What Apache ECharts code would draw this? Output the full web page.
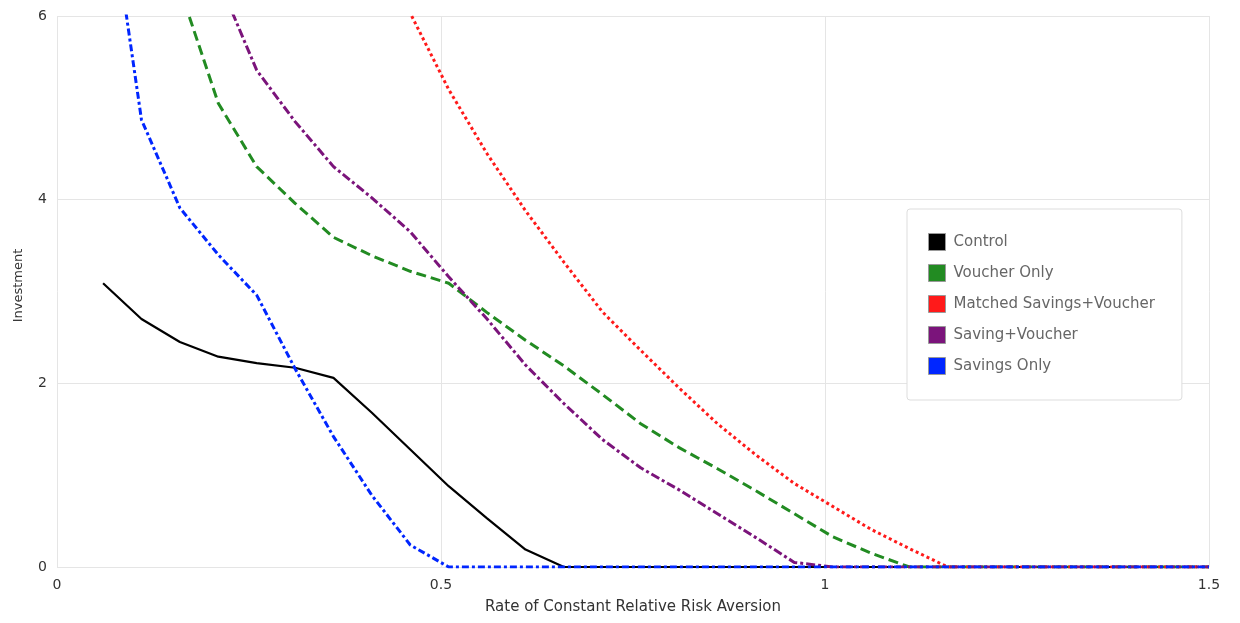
<!DOCTYPE html>
<html>
<head>
<meta charset="utf-8">
<script src="https://cdn.jsdelivr.net/npm/echarts@6/dist/echarts.min.js"></script>
<style>
html,body{margin:0;padding:0;background:#fff;}
#chart{width:1240px;height:623px;}
</style>
</head>
<body>
<div id="chart"></div>
<script>
// Rate of constant relative risk aversion (x values)
var xValues = [0.06,0.11,0.16,0.21,0.26,0.31,0.36,0.41,0.46,0.51,0.56,0.61,0.66,0.71,0.76,0.81,0.86,0.91,0.96,1.01,1.06,1.11,1.16,1.21,1.26,1.31,1.36,1.41,1.46,1.5];

var control = [3.09,2.70,2.45,2.29,2.22,2.17,2.06,1.68,1.28,0.88,0.53,0.19,0,0,0,0,0,0,0,0,0,0,0,0,0,0,0,0,0,0];
var voucherOnly = [null,null,6.3,5.05,4.36,3.96,3.59,3.39,3.22,3.09,2.77,2.47,2.19,1.88,1.56,1.30,1.07,0.83,0.58,0.33,0.15,0,0,0,0,0,0,0,0,0];
var matchedSavingsVoucher = [null,null,null,null,null,null,null,6.95,6.03,5.20,4.50,3.88,3.32,2.78,2.36,1.95,1.56,1.22,0.91,0.66,0.41,0.20,0,0,0,0,0,0,0,0];
var savingVoucher = [null,null,null,6.4,5.41,4.85,4.36,4.02,3.65,3.16,2.70,2.20,1.78,1.39,1.08,0.84,0.58,0.32,0.05,0,0,0,0,0,0,0,0,0,0,0];
var savingsOnly = [7.76,4.87,3.91,3.40,2.96,2.16,1.42,0.78,0.24,0,0,0,0,0,0,0,0,0,0,0,0,0,0,0,0,0,0,0,0,0];

var seriesNames = ['Control','Voucher Only','Matched Savings+Voucher','Saving+Voucher','Savings Only'];
var seriesValues = [control, voucherOnly, matchedSavingsVoucher, savingVoucher, savingsOnly];
var seriesColors = ['#000000','#228b22','#ff1a1a','#7b147b','#0026ff'];
var seriesDash = ['solid',[10,5],[3,3],[9,3,3,3],[7,3,3,3]];
var seriesWidth = [2.2,3,3,3,3];

function pairs(vals){
  var out = [];
  for (var i=0;i<xValues.length;i++){ out.push([xValues[i], vals[i]]); }
  return out;
}

var FONT = 'DejaVu Sans';
var chart = echarts.init(document.getElementById('chart'), null, {renderer:'canvas'});
var series = seriesNames.map(function(n,i){
  return {
    name: n, type: 'line', symbol: 'none', smooth: false, clip: true,
    data: pairs(seriesValues[i]),
    lineStyle: {color: seriesColors[i], width: seriesWidth[i], type: seriesDash[i]},
    itemStyle: {color: seriesColors[i]},
    emphasis: {disabled: true}
  };
});

chart.setOption({
  animation: false,
  backgroundColor: '#fff',
  grid: {left: 57, right: 31, top: 16, bottom: 56, containLabel: false},
  legend: {
    orient: 'vertical', left: 907, top: 209,
    padding: [24, 27, 25, 21],
    itemGap: 13, itemWidth: 17, itemHeight: 17,
    icon: 'rect',
    itemStyle: {borderColor: '#999', borderWidth: 1},
    backgroundColor: '#fff', borderColor: '#ddd', borderWidth: 1, borderRadius: 3,
    textStyle: {color: '#666', fontSize: 15, fontFamily: FONT, padding: [0,0,0,3]},
    data: seriesNames
  },
  xAxis: {
    type: 'value', min: 0, max: 1.5, interval: 0.5,
    name: 'Rate of Constant Relative Risk Aversion',
    nameLocation: 'middle', nameGap: 33,
    nameTextStyle: {color: '#333', fontSize: 15, fontFamily: FONT},
    axisLine: {show: false}, axisTick: {show: false},
    axisLabel: {color: '#333', fontSize: 14, fontFamily: FONT, margin: 11},
    splitLine: {show: true, lineStyle: {color: '#e5e5e5', width: 1}}
  },
  yAxis: {
    type: 'value', min: 0, max: 6, interval: 2,
    name: 'Investment',
    nameLocation: 'middle', nameGap: 32,
    nameTextStyle: {color: '#333', fontSize: 13, fontFamily: FONT, padding: [0,0,0,12]},
    axisLine: {show: false}, axisTick: {show: false},
    axisLabel: {color: '#333', fontSize: 14, fontFamily: FONT, margin: 10},
    splitLine: {show: true, lineStyle: {color: '#e5e5e5', width: 1}}
  },
  series: series
});
</script>
</body>
</html>
